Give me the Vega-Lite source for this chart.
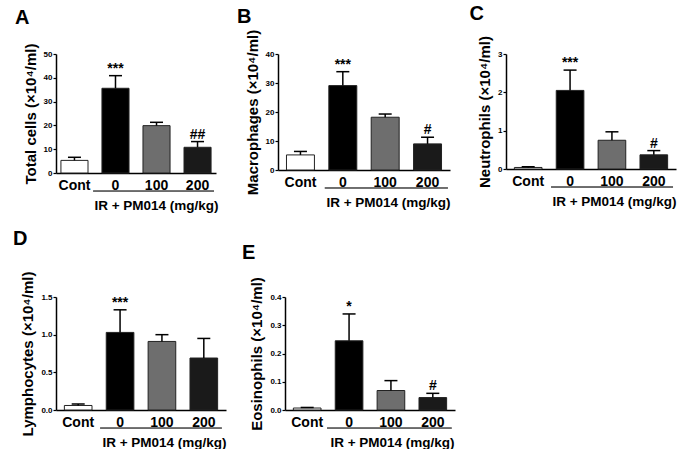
{
  "$schema": "https://vega.github.io/schema/vega-lite/v6.json",
  "padding": {"left": 12, "top": 4, "right": 0, "bottom": 0},
  "config": {
    "font": "Liberation Sans",
    "view": {"stroke": null},
    "axis": {"domainColor": "#000", "domainWidth": 1.5, "tickColor": "#000", "tickWidth": 1.2, "labelColor": "#000", "titleColor": "#000", "labelFontWeight": "bold", "titleFontWeight": "bold", "grid": false},
    "axisX": {"ticks": false, "labelFontSize": 14, "labelAngle": 0, "labelPadding": 5, "titleFontSize": 13.5, "titleBaseline": "top", "titleY": 25, "titleAlign": "center"},
    "axisY": {"tickSize": 3, "labelFontSize": 8, "labelPadding": 1, "titleFontSize": 15, "titlePadding": 5},
    "title": {"fontSize": 20, "fontWeight": "bold", "anchor": "start", "frame": "bounds", "dx": -8, "color": "#000"},
    "bar": {"stroke": "#222", "strokeWidth": 1},
    "text": {"fontSize": 14, "fontWeight": "bold", "baseline": "alphabetic", "dy": -3, "color": "#000"}
  },
  "datasets": {
    "bars": [
      {"panel": "A", "group": "Cont", "mean": 5.3, "upper": 6.6, "note": ""},
      {"panel": "A", "group": "0", "mean": 35.6, "upper": 40.9, "note": "***"},
      {"panel": "A", "group": "100", "mean": 19.9, "upper": 21.3, "note": ""},
      {"panel": "A", "group": "200", "mean": 10.8, "upper": 13.2, "note": "##"},
      {"panel": "B", "group": "Cont", "mean": 5.2, "upper": 6.4, "note": ""},
      {"panel": "B", "group": "0", "mean": 29.1, "upper": 33.9, "note": "***"},
      {"panel": "B", "group": "100", "mean": 18.2, "upper": 19.3, "note": ""},
      {"panel": "B", "group": "200", "mean": 9.0, "upper": 11.3, "note": "#"},
      {"panel": "C", "group": "Cont", "mean": 0.04, "upper": 0.06, "note": ""},
      {"panel": "C", "group": "0", "mean": 2.05, "upper": 2.58, "note": "***"},
      {"panel": "C", "group": "100", "mean": 0.75, "upper": 0.97, "note": ""},
      {"panel": "C", "group": "200", "mean": 0.37, "upper": 0.48, "note": "#"},
      {"panel": "D", "group": "Cont", "mean": 0.06, "upper": 0.08, "note": ""},
      {"panel": "D", "group": "0", "mean": 1.03, "upper": 1.33, "note": "***"},
      {"panel": "D", "group": "100", "mean": 0.91, "upper": 1.0, "note": ""},
      {"panel": "D", "group": "200", "mean": 0.69, "upper": 0.95, "note": ""},
      {"panel": "E", "group": "Cont", "mean": 0.007, "upper": 0.009, "note": ""},
      {"panel": "E", "group": "0", "mean": 0.245, "upper": 0.34, "note": "*"},
      {"panel": "E", "group": "100", "mean": 0.069, "upper": 0.104, "note": ""},
      {"panel": "E", "group": "200", "mean": 0.044, "upper": 0.059, "note": "#"}
    ]
  },
  "data": {"name": "bars"},
  "spacing": 17,
  "align": "none",
  "vconcat": [
    {
      "spacing": 18,
      "align": "none",
      "hconcat": [
        {
          "width": 160, "height": 119,
          "title": {"text": "A", "offset": 15},
          "transform": [{"filter": "datum.panel === 'A'"}],
          "resolve": {"scale": {"x": "independent"}},
          "layer": [
            {
              "encoding": {
                "x": {"field": "group", "type": "nominal", "sort": ["Cont", "0", "100", "200"], "scale": {"paddingInner": 0.34, "paddingOuter": 0.12}, "axis": {"title": "IR + PM014 (mg/kg)", "titleX": 100}}
              },
              "layer": [
                {"mark": "bar", "encoding": {
                  "y": {"field": "mean", "type": "quantitative", "title": "Total cells (×10⁴/ml)", "scale": {"domain": [0, 50], "nice": false}, "axis": {"values": [0, 10, 20, 30, 40, 50]}},
                  "fill": {"field": "group", "type": "nominal", "scale": {"domain": ["Cont", "0", "100", "200"], "range": ["#ffffff", "#000000", "#6e6e6e", "#1a1a1a"]}, "legend": null}}},
                {"mark": {"type": "rule", "strokeWidth": 1.5, "color": "#000"}, "encoding": {
                  "y": {"field": "mean", "type": "quantitative", "title": "Total cells (×10⁴/ml)", "axis": {"values": [0, 10, 20, 30, 40, 50]}}, "y2": {"field": "upper"}}},
                {"mark": {"type": "tick", "size": 13, "thickness": 1.5, "color": "#000", "opacity": 1}, "encoding": {
                  "y": {"field": "upper", "type": "quantitative", "title": "Total cells (×10⁴/ml)", "axis": {"values": [0, 10, 20, 30, 40, 50]}}}},
                {"mark": "text", "encoding": {
                  "y": {"field": "upper", "type": "quantitative", "title": "Total cells (×10⁴/ml)", "axis": {"values": [0, 10, 20, 30, 40, 50]}}, "text": {"field": "note"}}}
              ]
            },
            {"mark": {"type": "rule", "color": "#666", "strokeWidth": 1}, "encoding": {
              "x": {"datum": 0.93, "type": "quantitative", "scale": {"domain": [0, 4]}, "axis": null}, "x2": {"datum": 3.95},
              "y": {"datum": -7.6, "type": "quantitative", "title": "Total cells (×10⁴/ml)", "axis": {"values": [0, 10, 20, 30, 40, 50]}}}}
          ]
        },
        {
          "width": 172, "height": 116,
          "title": {"text": "B", "offset": 2},
          "transform": [{"filter": "datum.panel === 'B'"}],
          "resolve": {"scale": {"x": "independent"}},
          "layer": [
            {
              "encoding": {
                "x": {"field": "group", "type": "nominal", "sort": ["Cont", "0", "100", "200"], "scale": {"paddingInner": 0.34, "paddingOuter": 0.2}, "axis": {"title": "IR + PM014 (mg/kg)", "titleX": 110}}
              },
              "layer": [
                {"mark": "bar", "encoding": {
                  "y": {"field": "mean", "type": "quantitative", "title": "Macrophages (×10⁴/ml)", "scale": {"domain": [0, 40], "nice": false}, "axis": {"values": [0, 10, 20, 30, 40]}},
                  "fill": {"field": "group", "type": "nominal", "scale": {"domain": ["Cont", "0", "100", "200"], "range": ["#ffffff", "#000000", "#6e6e6e", "#1a1a1a"]}, "legend": null}}},
                {"mark": {"type": "rule", "strokeWidth": 1.5, "color": "#000"}, "encoding": {
                  "y": {"field": "mean", "type": "quantitative", "title": "Macrophages (×10⁴/ml)", "axis": {"values": [0, 10, 20, 30, 40]}}, "y2": {"field": "upper"}}},
                {"mark": {"type": "tick", "size": 13, "thickness": 1.5, "color": "#000", "opacity": 1}, "encoding": {
                  "y": {"field": "upper", "type": "quantitative", "title": "Macrophages (×10⁴/ml)", "axis": {"values": [0, 10, 20, 30, 40]}}}},
                {"mark": "text", "encoding": {
                  "y": {"field": "upper", "type": "quantitative", "title": "Macrophages (×10⁴/ml)", "axis": {"values": [0, 10, 20, 30, 40]}}, "text": {"field": "note"}}}
              ]
            },
            {"mark": {"type": "rule", "color": "#666", "strokeWidth": 1}, "encoding": {
              "x": {"datum": 1.09, "type": "quantitative", "scale": {"domain": [0, 4]}, "axis": null}, "x2": {"datum": 3.95},
              "y": {"datum": -6.2, "type": "quantitative", "title": "Macrophages (×10⁴/ml)", "axis": {"values": [0, 10, 20, 30, 40]}}}}
          ]
        },
        {
          "width": 170, "height": 115,
          "title": {"text": "C", "offset": 11},
          "transform": [{"filter": "datum.panel === 'C'"}],
          "resolve": {"scale": {"x": "independent"}},
          "layer": [
            {
              "encoding": {
                "x": {"field": "group", "type": "nominal", "sort": ["Cont", "0", "100", "200"], "scale": {"paddingInner": 0.34, "paddingOuter": 0.2}, "axis": {"title": "IR + PM014 (mg/kg)", "titleX": 108}}
              },
              "layer": [
                {"mark": "bar", "encoding": {
                  "y": {"field": "mean", "type": "quantitative", "title": "Neutrophils (×10⁴/ml)", "scale": {"domain": [0, 3], "nice": false}, "axis": {"values": [0, 1, 2, 3]}},
                  "fill": {"field": "group", "type": "nominal", "scale": {"domain": ["Cont", "0", "100", "200"], "range": ["#ffffff", "#000000", "#6e6e6e", "#1a1a1a"]}, "legend": null}}},
                {"mark": {"type": "rule", "strokeWidth": 1.5, "color": "#000"}, "encoding": {
                  "y": {"field": "mean", "type": "quantitative", "title": "Neutrophils (×10⁴/ml)", "axis": {"values": [0, 1, 2, 3]}}, "y2": {"field": "upper"}}},
                {"mark": {"type": "tick", "size": 13, "thickness": 1.5, "color": "#000", "opacity": 1}, "encoding": {
                  "y": {"field": "upper", "type": "quantitative", "title": "Neutrophils (×10⁴/ml)", "axis": {"values": [0, 1, 2, 3]}}}},
                {"mark": "text", "encoding": {
                  "y": {"field": "upper", "type": "quantitative", "title": "Neutrophils (×10⁴/ml)", "axis": {"values": [0, 1, 2, 3]}}, "text": {"field": "note"}}}
              ]
            },
            {"mark": {"type": "rule", "color": "#666", "strokeWidth": 1}, "encoding": {
              "x": {"datum": 1.06, "type": "quantitative", "scale": {"domain": [0, 4]}, "axis": null}, "x2": {"datum": 3.93},
              "y": {"datum": -0.47, "type": "quantitative", "title": "Neutrophils (×10⁴/ml)", "axis": {"values": [0, 1, 2, 3]}}}}
          ]
        }
      ]
    },
    {
      "spacing": 14,
      "align": "none",
      "hconcat": [
        {
          "width": 170, "height": 113,
          "title": {"text": "D", "offset": 22},
          "transform": [{"filter": "datum.panel === 'D'"}],
          "resolve": {"scale": {"x": "independent"}},
          "layer": [
            {
              "encoding": {
                "x": {"field": "group", "type": "nominal", "sort": ["Cont", "0", "100", "200"], "scale": {"paddingInner": 0.34, "paddingOuter": 0.2}, "axis": {"title": "IR + PM014 (mg/kg)", "titleX": 108}}
              },
              "layer": [
                {"mark": "bar", "encoding": {
                  "y": {"field": "mean", "type": "quantitative", "title": "Lymphocytes (×10⁴/ml)", "scale": {"domain": [0, 1.5], "nice": false}, "axis": {"values": [0, 0.5, 1, 1.5], "format": ".1f"}},
                  "fill": {"field": "group", "type": "nominal", "scale": {"domain": ["Cont", "0", "100", "200"], "range": ["#ffffff", "#000000", "#6e6e6e", "#1a1a1a"]}, "legend": null}}},
                {"mark": {"type": "rule", "strokeWidth": 1.5, "color": "#000"}, "encoding": {
                  "y": {"field": "mean", "type": "quantitative", "title": "Lymphocytes (×10⁴/ml)", "axis": {"values": [0, 0.5, 1, 1.5], "format": ".1f"}}, "y2": {"field": "upper"}}},
                {"mark": {"type": "tick", "size": 13, "thickness": 1.5, "color": "#000", "opacity": 1}, "encoding": {
                  "y": {"field": "upper", "type": "quantitative", "title": "Lymphocytes (×10⁴/ml)", "axis": {"values": [0, 0.5, 1, 1.5], "format": ".1f"}}}},
                {"mark": "text", "encoding": {
                  "y": {"field": "upper", "type": "quantitative", "title": "Lymphocytes (×10⁴/ml)", "axis": {"values": [0, 0.5, 1, 1.5], "format": ".1f"}}, "text": {"field": "note"}}}
              ]
            },
            {"mark": {"type": "rule", "color": "#666", "strokeWidth": 1}, "encoding": {
              "x": {"datum": 1.04, "type": "quantitative", "scale": {"domain": [0, 4]}, "axis": null}, "x2": {"datum": 3.9},
              "y": {"datum": -0.24, "type": "quantitative", "title": "Lymphocytes (×10⁴/ml)", "axis": {"values": [0, 0.5, 1, 1.5], "format": ".1f"}}}}
          ]
        },
        {
          "width": 170, "height": 113,
          "title": {"text": "E", "offset": 14},
          "transform": [{"filter": "datum.panel === 'E'"}],
          "resolve": {"scale": {"x": "independent"}},
          "layer": [
            {
              "encoding": {
                "x": {"field": "group", "type": "nominal", "sort": ["Cont", "0", "100", "200"], "scale": {"paddingInner": 0.34, "paddingOuter": 0.2}, "axis": {"title": "IR + PM014 (mg/kg)", "titleX": 107}}
              },
              "layer": [
                {"mark": "bar", "encoding": {
                  "y": {"field": "mean", "type": "quantitative", "title": "Eosinophils (×10⁴/ml)", "scale": {"domain": [0, 0.4], "nice": false}, "axis": {"values": [0, 0.1, 0.2, 0.3, 0.4], "format": ".1f"}},
                  "fill": {"field": "group", "type": "nominal", "scale": {"domain": ["Cont", "0", "100", "200"], "range": ["#ffffff", "#000000", "#6e6e6e", "#1a1a1a"]}, "legend": null}}},
                {"mark": {"type": "rule", "strokeWidth": 1.5, "color": "#000"}, "encoding": {
                  "y": {"field": "mean", "type": "quantitative", "title": "Eosinophils (×10⁴/ml)", "axis": {"values": [0, 0.1, 0.2, 0.3, 0.4], "format": ".1f"}}, "y2": {"field": "upper"}}},
                {"mark": {"type": "tick", "size": 13, "thickness": 1.5, "color": "#000", "opacity": 1}, "encoding": {
                  "y": {"field": "upper", "type": "quantitative", "title": "Eosinophils (×10⁴/ml)", "axis": {"values": [0, 0.1, 0.2, 0.3, 0.4], "format": ".1f"}}}},
                {"mark": "text", "encoding": {
                  "y": {"field": "upper", "type": "quantitative", "title": "Eosinophils (×10⁴/ml)", "axis": {"values": [0, 0.1, 0.2, 0.3, 0.4], "format": ".1f"}}, "text": {"field": "note"}}}
              ]
            },
            {"mark": {"type": "rule", "color": "#666", "strokeWidth": 1}, "encoding": {
              "x": {"datum": 0.99, "type": "quantitative", "scale": {"domain": [0, 4]}, "axis": null}, "x2": {"datum": 3.92},
              "y": {"datum": -0.064, "type": "quantitative", "title": "Eosinophils (×10⁴/ml)", "axis": {"values": [0, 0.1, 0.2, 0.3, 0.4], "format": ".1f"}}}}
          ]
        }
      ]
    }
  ]
}
